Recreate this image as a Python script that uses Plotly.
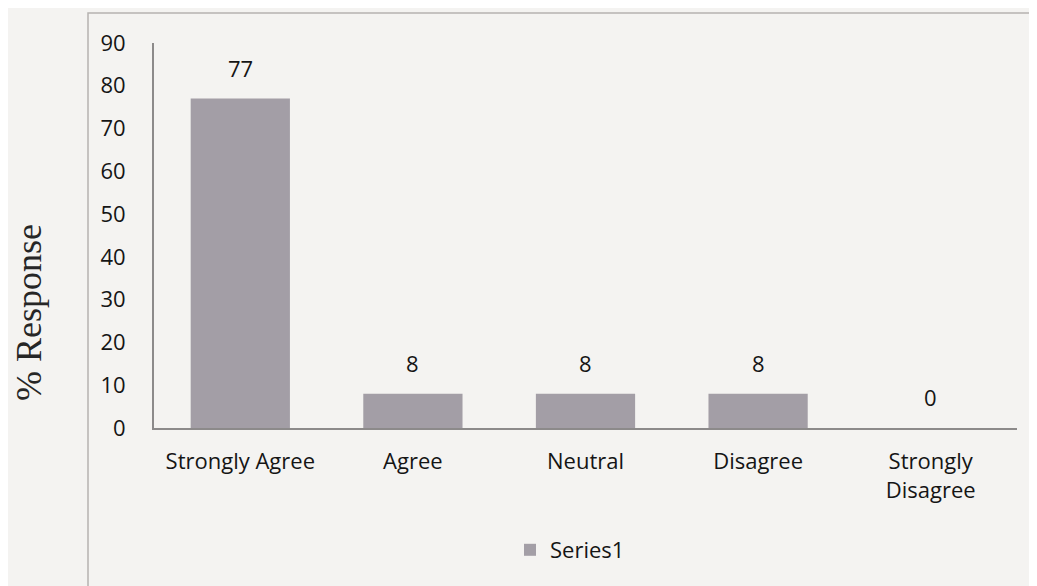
import plotly.graph_objects as go

categories = ["Strongly Agree", "Agree", "Neutral", "Disagree", "Strongly<br>Disagree"]
values = [77, 8, 8, 8, 0]
series_name = "Series1"
y_ticks = [0, 10, 20, 30, 40, 50, 60, 70, 80, 90]

OFF = 8  # page body margin
W, H = 1037 - OFF, 586 - OFF
L, T = 154 - OFF, 43 - OFF
R = W - (1017 - OFF)
B = H - (428 - OFF)
pw, ph = W - L - R, H - T - B

def px_x(p):
    return (p - OFF - L) / pw

def px_y(p):
    return (H - B - (p - OFF)) / ph

bar_color = "#a39ea6"
text_color = "#151515"
bg = "#f4f3f1"
font_fam = "Open Sans, Lato, sans-serif"
fs = 22

fig = go.Figure()
fig.add_trace(go.Bar(
    x=categories, y=values, name=series_name,
    marker=dict(color=bar_color, line=dict(width=0)),
    showlegend=True,
))

for c, v in zip(categories, values):
    fig.add_annotation(x=c, y=v, text=str(v), showarrow=False,
                       yanchor="bottom", yshift=14,
                       font=dict(family=font_fam, size=fs, color=text_color))

fig.add_annotation(x=px_x(29), y=px_y(313), xref="paper", yref="paper",
                   xanchor="center", yanchor="middle",
                   text="% Response", textangle=-90, showarrow=False,
                   font=dict(family="Liberation Serif, Times New Roman, serif", size=36, color="#262626"))

# chart border
fig.add_shape(type="rect", xref="paper", yref="paper",
              x0=px_x(88), x1=px_x(1030), y0=px_y(620), y1=px_y(13),
              line=dict(color="#b5b3b0", width=1.5), fillcolor="rgba(0,0,0,0)", layer="below")

fig.update_layout(
    width=W, height=H,
    margin=dict(l=L, r=R, t=T, b=B, autoexpand=False),
    paper_bgcolor=bg, plot_bgcolor=bg,
    bargap=0.425,
    font=dict(family=font_fam, size=fs, color=text_color),
    legend=dict(orientation="h", x=px_x(570), y=px_y(550), xanchor="center", yanchor="middle",
                font=dict(family=font_fam, size=fs, color=text_color),
                bgcolor="rgba(0,0,0,0)", itemwidth=30),
    xaxis=dict(showline=True, linecolor="#8c8a8a", linewidth=2, ticks="",
               ticklabelstandoff=13, showgrid=False, zeroline=False,
               tickfont=dict(family=font_fam, size=fs, color=text_color)),
    yaxis=dict(range=[0, 90], tickvals=y_ticks, showline=True, linecolor="#8c8a8a", linewidth=2,
               ticks="", ticklabelstandoff=22, showgrid=False, zeroline=False,
               tickfont=dict(family=font_fam, size=fs, color=text_color)),
)

fig.write_html("out.html")
